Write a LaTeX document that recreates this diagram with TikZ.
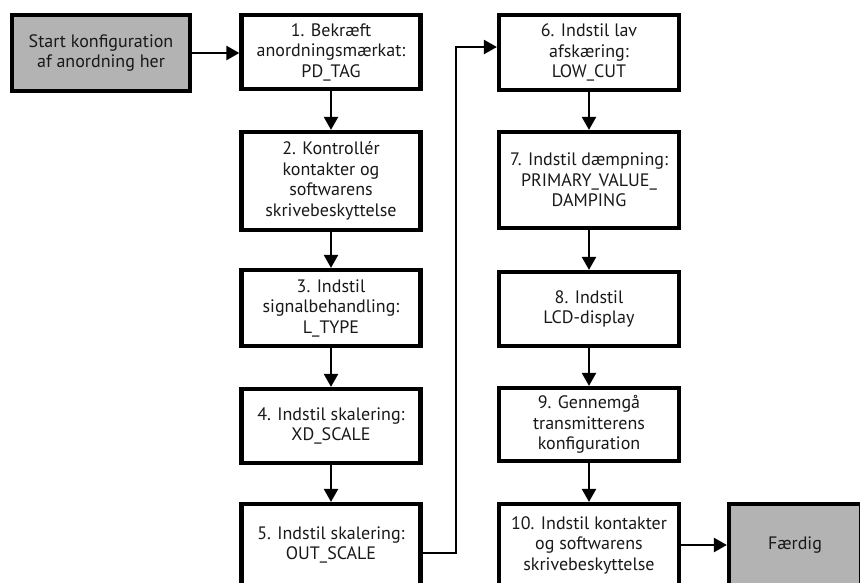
\documentclass[tikz,border=0pt]{standalone}
\usepackage{fontspec}
\setmainfont{PT Sans}
\usetikzlibrary{arrows.meta}
\definecolor{boxgray}{RGB}{179,179,179}
\tikzset{
  stepbox/.style={draw=black, line width=4.2pt, fill=white, align=center,
    inner sep=0pt, font=\fontsize{18}{20.5}\selectfont, text=black!90},
  endbox/.style={stepbox, fill=boxgray},
  flow/.style={line width=2.2pt, -{Triangle[length=13pt,width=14pt]}},
}
\begin{document}
\begin{tikzpicture}[x=1pt, y=-1pt]
  \useasboundingbox (0,0) rectangle (860,582);
  \clip (0,0) rectangle (860,582);
  % start box
  \node[endbox, minimum width=178pt, minimum height=76pt] (start) at (101,53)
    {Start konfiguration\\af anordning her};
  % first column
  \node[stepbox, minimum width=179pt, minimum height=74pt] (s1) at (331,52)
    {1. Bekræft\\anordningsmærkat:\\PD\_TAG};
  \node[stepbox, minimum width=179pt, minimum height=98pt] (s2) at (331,181)
    {2. Kontrollér\\kontakter og\\softwarens\\skrivebeskyttelse};
  \node[stepbox, minimum width=179pt, minimum height=76pt] (s3) at (331,308)
    {3. Indstil\\signalbehandling:\\L\_TYPE};
  \node[stepbox, minimum width=179pt, minimum height=74pt] (s4) at (331,426)
    {4. Indstil skalering:\\XD\_SCALE};
  \node[stepbox, minimum width=179pt, minimum height=82pt] (s5) at (331,545)
    {5. Indstil skalering:\\OUT\_SCALE};
  % second column
  \node[stepbox, minimum width=180pt, minimum height=75pt] (s6) at (589,52.5)
    {6. Indstil lav\\afskæring:\\LOW\_CUT};
  \node[stepbox, minimum width=180pt, minimum height=96pt] (s7) at (589,180)
    {7. Indstil dæmpning:\\PRIMARY\_VALUE\_\\DAMPING};
  \node[stepbox, minimum width=180pt, minimum height=74pt] (s8) at (589,309)
    {8. Indstil\\LCD-display};
  \node[stepbox, minimum width=180pt, minimum height=73pt] (s9) at (589,424.5)
    {9. Gennemgå\\transmitterens\\konfiguration};
  \node[stepbox, minimum width=180pt, minimum height=82pt] (s10) at (589,545)
    {10. Indstil kontakter\\og softwarens\\skrivebeskyttelse};
  % finish box
  \node[endbox, minimum width=132pt, minimum height=82pt] (done) at (795,545)
    {Færdig};
  % connectors
  \draw[flow] (start.east) -- (start.east -| s1.west);
  \draw[flow] (s1) -- (s2);
  \draw[flow] (s2) -- (s3);
  \draw[flow] (s3) -- (s4);
  \draw[flow] (s4) -- (s5);
  \coordinate (out5) at (s5.east |- 0,553);
  \coordinate (in6) at (s6.west |- 0,47);
  \draw[flow] (out5) -| (456,47) -- (in6);
  \draw[flow] (s6) -- (s7);
  \draw[flow] (s7) -- (s8);
  \draw[flow] (s8) -- (s9);
  \draw[flow] (s9) -- (s10);
  \draw[flow] (s10.east |- done.west) -- (done.west);
\end{tikzpicture}
\end{document}
